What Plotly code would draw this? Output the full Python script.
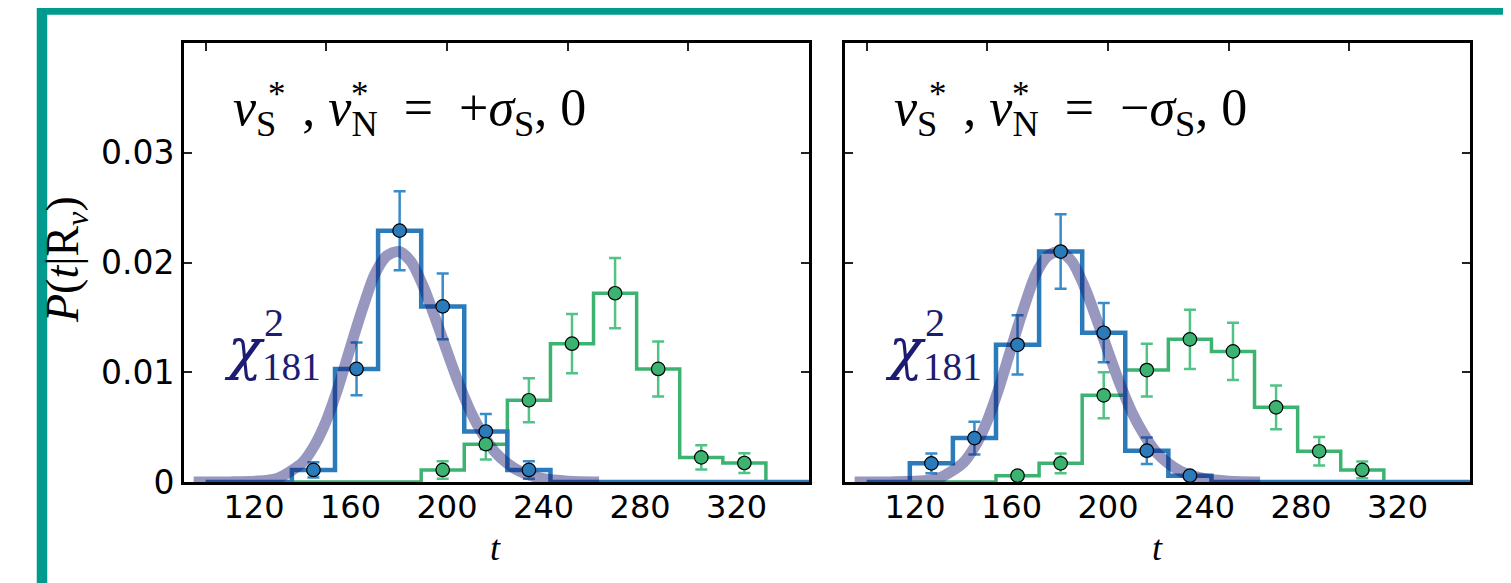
import plotly.graph_objects as go

# page has an 8px body margin, so the figure is drawn 8px in from the corner
OFF = 8
W, H = 1511 - OFF, 583 - OFF

# ---------------- data ----------------
bin_edges = [100.0, 117.86, 135.71, 153.57, 171.43, 189.29, 207.14, 225.0,
             242.86, 260.71, 278.57, 296.43, 314.29, 332.14, 350.0]
bin_centers = [108.93, 126.79, 144.64, 162.5, 180.36, 198.21, 216.07, 233.93,
               251.79, 269.64, 287.5, 305.36, 323.21, 341.07]

# panel 1: nu_S*, nu_N* = +sigma_S, 0
plus_blue = [0, 0, 0.0011, 0.0103, 0.0229, 0.0160, 0.0046, 0.0011, 0, 0, 0, 0, 0, 0]
plus_blue_err = [0, 0, 0.0007, 0.0024, 0.0036, 0.0030, 0.0016, 0.0008, 0, 0, 0, 0, 0, 0]
plus_green = [0, 0, 0, 0, 0, 0.0011, 0.00345, 0.00745, 0.0126, 0.0172, 0.0103, 0.00224, 0.00173, 0]
plus_green_err = [0, 0, 0, 0, 0, 0.0008, 0.0014, 0.0020, 0.0027, 0.0032, 0.0025, 0.0011, 0.0009, 0]

# panel 2: nu_S*, nu_N* = -sigma_S, 0
minus_blue = [0, 0.0017, 0.0040, 0.0125, 0.0210, 0.0136, 0.00285, 0.00058, 0, 0, 0, 0, 0, 0]
minus_blue_err = [0, 0.0009, 0.0015, 0.0027, 0.0034, 0.0027, 0.0012, 0.0003, 0, 0, 0, 0, 0, 0]
minus_green = [0, 0, 0, 0.00058, 0.0017, 0.0079, 0.0102, 0.0130, 0.0119, 0.0068, 0.0028, 0.0011, 0, 0]
minus_green_err = [0, 0, 0, 0.0003, 0.0009, 0.0021, 0.0024, 0.0027, 0.0026, 0.0020, 0.0013, 0.00076, 0, 0]

# chi^2_181 reference curve
chi_t = [95, 110, 125, 130, 140, 145, 150, 155, 160, 165, 170, 175, 180, 185,
         190, 195, 200, 205, 210, 215, 220, 225, 230, 235, 240, 250, 263]
chi_p = [0.0, 0.00001, 0.00013, 0.00035, 0.00175, 0.0033, 0.0056, 0.0087, 0.0123,
         0.0158, 0.0189, 0.0206, 0.0210, 0.0201, 0.0179, 0.0150, 0.0119, 0.0089,
         0.0063, 0.0043, 0.0027, 0.0017, 0.00099, 0.00056, 0.0003, 0.00008, 0.00001]

x_ticks = [120, 160, 200, 240, 280, 320]
x_top_ticks = [100, 150, 200, 250, 300, 350]
y_ticks = [0, 0.01, 0.02, 0.03]
y_ticktext = ["0", "0.01", "0.02", "0.03"]

signs = ["+", "−"]

# ---------------- styling ----------------
BLUE = "#2b7bba"
BLUE_ERR = "#3a8cc9"
GREEN = "#3cb371"
GREEN_ERR = "#52c285"
CHI = "rgba(25,25,112,0.45)"
NAVY = "#1c1c72"
TEAL = "#009a8f"
SERIF = "Liberation Serif"
SANS = "DejaVu Sans"

X_RANGE = [91, 350]
Y_RANGE = [0, 0.04]


def px_x(p):
    return (p - OFF) / W


def px_y(p):
    return 1 - (p - OFF) / H


fig = go.Figure()

panels = [
    (plus_blue, plus_blue_err, plus_green, plus_green_err, "x", "y"),
    (minus_blue, minus_blue_err, minus_green, minus_green_err, "x2", "y2"),
]

for blue, blue_err, green, green_err, xa, ya in panels:
    # step histograms
    for vals, col, lw in [(green, GREEN, 3.5), (blue, BLUE, 4.5)]:
        fig.add_trace(go.Scatter(
            x=bin_edges, y=vals + [vals[-1]], mode="lines",
            line=dict(color=col, width=lw, shape="hv"),
            xaxis=xa, yaxis=ya, showlegend=False, hoverinfo="skip"))
    # error bars
    for vals, errs, col in [(blue, blue_err, BLUE_ERR), (green, green_err, GREEN_ERR)]:
        xs = [c for c, v in zip(bin_centers, vals) if v > 0]
        ys = [v for v in vals if v > 0]
        es = [e for v, e in zip(vals, errs) if v > 0]
        fig.add_trace(go.Scatter(
            x=xs, y=ys, mode="markers", marker=dict(size=1, opacity=0),
            error_y=dict(type="data", array=es, color=col, thickness=2.5, width=6),
            xaxis=xa, yaxis=ya, showlegend=False, hoverinfo="skip"))
    # chi^2 curve
    fig.add_trace(go.Scatter(
        x=chi_t, y=chi_p, mode="lines",
        line=dict(color=CHI, width=11, shape="spline", smoothing=0.8),
        xaxis=xa, yaxis=ya, showlegend=False, hoverinfo="skip"))
    # markers
    for vals, col in [(blue, BLUE), (green, GREEN)]:
        xs = [c for c, v in zip(bin_centers, vals) if v > 0]
        ys = [v for v in vals if v > 0]
        fig.add_trace(go.Scatter(
            x=xs, y=ys, mode="markers",
            marker=dict(size=13.5, color=col, line=dict(color="black", width=1.2)),
            xaxis=xa, yaxis=ya, showlegend=False, hoverinfo="skip"))

# dummy traces so the top-tick overlay axes are drawn
fig.add_trace(go.Scatter(x=[None], y=[None], xaxis="x3", yaxis="y", showlegend=False))
fig.add_trace(go.Scatter(x=[None], y=[None], xaxis="x4", yaxis="y2", showlegend=False))

dom_left = [px_x(184), px_x(809)]
dom_right = [px_x(845), px_x(1470)]
dom_y = [px_y(482), px_y(43)]

xcommon = dict(range=X_RANGE, showgrid=False, zeroline=False, showline=True,
               linecolor="black", linewidth=3, mirror=True, ticks="",
               tickmode="array", tickvals=x_ticks, ticktext=[str(v) for v in x_ticks],
               tickfont=dict(family=SANS, size=32, color="black"), automargin=False,
               ticklabelstandoff=-5)
xtop = dict(range=X_RANGE, showgrid=False, zeroline=False, showline=False,
            side="top", ticks="inside", ticklen=8, tickwidth=1.5, tickcolor="#222",
            tickmode="array", tickvals=x_top_ticks, showticklabels=False, automargin=False)
ycommon = dict(range=Y_RANGE, showgrid=False, zeroline=False, showline=True,
               linecolor="black", linewidth=3, mirror="ticks", ticks="inside",
               ticklen=8, tickwidth=1.5, tickcolor="#222",
               tickmode="array", tickvals=y_ticks, ticktext=y_ticktext,
               tickfont=dict(family=SANS, size=33, color="black"), automargin=False,
               domain=dom_y)

fig.update_layout(
    width=W, height=H,
    margin=dict(l=0, r=0, t=0, b=0, pad=0),
    paper_bgcolor="white", plot_bgcolor="white",
    showlegend=False,
    xaxis=dict(xcommon, domain=dom_left, anchor="y"),
    xaxis2=dict(xcommon, domain=dom_right, anchor="y2"),
    xaxis3=dict(xtop, overlaying="x", anchor="y"),
    xaxis4=dict(xtop, overlaying="x2", anchor="y2"),
    yaxis=dict(ycommon, anchor="x"),
    yaxis2=dict(ycommon, anchor="x2", showticklabels=False),
)

# teal frame
fig.add_shape(type="rect", xref="paper", yref="paper",
              x0=px_x(42), x1=px_x(1509), y0=px_y(640), y1=px_y(9.5),
              line=dict(color=TEAL, width=10.5), fillcolor="rgba(0,0,0,0)", layer="above")

annotations = []
offsets = [0, 661]
for sign, off in zip(signs, offsets):
    title = ("<i>ν</i><sub>S</sub>&nbsp; , <i>ν</i><sub>N</sub>&nbsp; = &nbsp;"
             + sign + "<i>σ</i><sub>S</sub>, 0")
    annotations.append(dict(
        text=title, xref="paper", yref="paper", x=px_x(231 + off), y=px_y(112),
        xanchor="left", yanchor="middle", showarrow=False,
        font=dict(family=SERIF, size=52, color="black")))
    for ax in (277, 360):
        annotations.append(dict(
            text="*", xref="paper", yref="paper", x=px_x(ax + off), y=px_y(95),
            xanchor="center", yanchor="middle", showarrow=False,
            font=dict(family=SERIF, size=35, color="black")))
    annotations.append(dict(
        text="<span style='font-family:DejaVu Serif'><i>χ</i></span><sub>181</sub>",
        xref="paper", yref="paper",
        x=px_x(222 + off), y=px_y(352), xanchor="left", yanchor="middle",
        showarrow=False, font=dict(family=SERIF, size=56, color=NAVY)))
    annotations.append(dict(
        text="2", xref="paper", yref="paper",
        x=px_x(262 + off), y=px_y(322), xanchor="left", yanchor="middle",
        showarrow=False, font=dict(family=SERIF, size=40, color=NAVY)))
    annotations.append(dict(
        text="<i>t</i>", xref="paper", yref="paper",
        x=px_x(496 + off), y=px_y(548), xanchor="center", yanchor="middle",
        showarrow=False, font=dict(family=SERIF, size=36, color="black")))

annotations.append(dict(
    text="<i>P</i>(<i>t</i>|R<sub><i>ν</i></sub>)", xref="paper", yref="paper",
    x=px_x(66), y=px_y(260), xanchor="center", yanchor="middle", textangle=-90,
    showarrow=False, font=dict(family=SERIF, size=46, color="black")))

fig.update_layout(annotations=annotations)

fig.write_html("out.html")
